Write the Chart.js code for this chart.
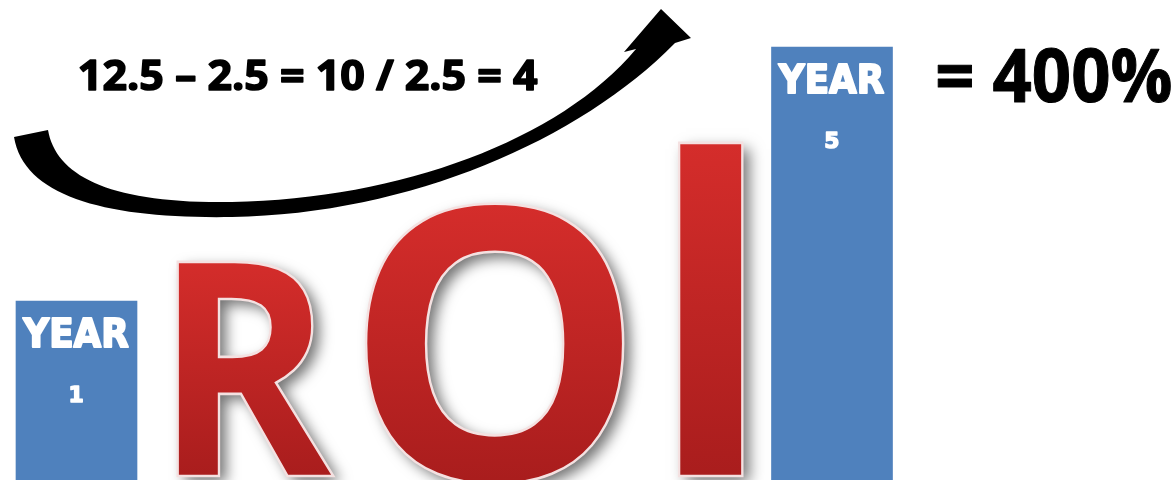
<!DOCTYPE html>
<html lang="en">
<head>
  <meta charset="UTF-8">
  <title>ROI</title>
  <style>
    body { margin: 0; padding: 0; background: #fff; }
    .chart-container { width: 1176px; height: 480px; position: relative; }
  </style>
</head>
<body>
  <div class="chart-container">
    <canvas id="roiChart"></canvas>
  </div>

  <script src="https://cdn.jsdelivr.net/npm/chart.js"></script>
  <script>
    // data
    const years = ['YEAR 1', 'YEAR 2', 'YEAR 3', 'YEAR 4', 'YEAR 5'];
    const yearValues = [2.5, null, null, null, 12.5];
    const yearNumbers = ['1', '', '', '', '5'];
    const axisFloor = -4.55;
    const equationText = '12.5 \u2013 2.5 = 10 / 2.5 = 4';
    const resultText = '= 400%';
    const roiLetters = ['R', 'O', 'I'];

    // draw text stretched so its ink box fits the given box
    function fitText(ctx, text, family, x0, x1, top, base, refChar, cx, heavy) {
      ctx.save();
      ctx.font = '700 100px ' + family;
      const m = ctx.measureText(text);
      const r = ctx.measureText(refChar || text);
      const w = m.actualBoundingBoxLeft + m.actualBoundingBoxRight;
      const sy = (base - top) / r.actualBoundingBoxAscent;
      let sx = sy;
      if (x0 !== null) sx = (x1 - x0) / w;
      else x0 = cx - w * sx / 2;
      ctx.translate(x0, base);
      ctx.scale(sx, sy);
      ctx.textAlign = 'left';
      ctx.textBaseline = 'alphabetic';
      ctx.fillText(text, m.actualBoundingBoxLeft, 0);
      if (heavy) {
        ctx.strokeStyle = ctx.fillStyle;
        ctx.lineJoin = 'round';
        ctx.lineWidth = heavy / ((sx + sy) / 2);
        ctx.strokeText(text, m.actualBoundingBoxLeft, 0);
      }
      ctx.restore();
    }

    function drawLetter(ctx, ch, x0, x1, top, base) {
      ctx.save();
      ctx.font = '700 100px "Open Sans"';
      const m = ctx.measureText(ch);
      const w = m.actualBoundingBoxLeft + m.actualBoundingBoxRight;
      const sy = (base - top) / m.actualBoundingBoxAscent;
      const sx = (x1 - x0) / w;
      ctx.translate(x0, base);
      ctx.scale(sx, sy);
      const g = ctx.createLinearGradient(0, -m.actualBoundingBoxAscent, 0, 0);
      g.addColorStop(0, '#d52d2b');
      g.addColorStop(1, '#a91d1d');
      ctx.shadowColor = 'rgba(0,0,0,0.55)';
      ctx.shadowBlur = 14;
      ctx.shadowOffsetX = 7;
      ctx.shadowOffsetY = 6;
      ctx.fillStyle = g;
      ctx.fillText(ch, m.actualBoundingBoxLeft, 0);
      ctx.shadowColor = 'transparent';
      ctx.lineWidth = 2.5 / ((sx + sy) / 2);
      ctx.strokeStyle = '#f4e1e1';
      ctx.strokeText(ch, m.actualBoundingBoxLeft, 0);
      ctx.restore();
    }

    const roiArt = {
      id: 'roiArt',
      beforeDatasetsDraw(chart) {
        const ctx = chart.ctx;
        // big staircase letters
        drawLetter(ctx, roiLetters[0], 175, 336, 257, 476);
        drawLetter(ctx, roiLetters[1], 363, 624, 202, 480);
        drawLetter(ctx, roiLetters[2], 675, 746, 140, 476);

        // swoosh arrow
        ctx.save();
        ctx.fillStyle = '#000';
        ctx.beginPath();
        ctx.moveTo(14, 137);
        ctx.bezierCurveTo(24, 198, 110, 219, 232, 217);
        ctx.bezierCurveTo(410, 214, 580, 140, 675, 43);
        ctx.lineTo(691, 38);
        ctx.lineTo(661, 9);
        ctx.lineTo(624, 52);
        ctx.lineTo(636, 49);
        ctx.bezierCurveTo(560, 140, 400, 199, 232, 202);
        ctx.bezierCurveTo(110, 204, 56, 176, 48, 130);
        ctx.closePath();
        ctx.fill();
        ctx.restore();

        ctx.save();
        ctx.fillStyle = '#000';
        fitText(ctx, equationText, '"Open Sans"', 80, 537, 60, 90, '0', null, 1.6);
        fitText(ctx, resultText, '"Open Sans"', 938, 1171, 48, 102, '0', null, 1);
        ctx.restore();
      },
      afterDatasetsDraw(chart) {
        const ctx = chart.ctx;
        const meta = chart.getDatasetMeta(0);
        ctx.save();
        ctx.fillStyle = '#fff';
        meta.data.forEach((bar, i) => {
          if (yearValues[i] === null) return;
          const half = bar.width / 2;
          fitText(ctx, 'YEAR', '"DejaVu Sans"', bar.x - half + 7, bar.x + half - 9, bar.y + 17, bar.y + 46, 'E', null, 2);
          fitText(ctx, yearNumbers[i], '"DejaVu Sans"', null, null, bar.y + 85, bar.y + 101, yearNumbers[i], bar.x, 1.5);
        });
        ctx.restore();
      }
    };

    new Chart(document.getElementById('roiChart'), {
      type: 'bar',
      data: {
        labels: years,
        datasets: [{
          data: yearValues,
          backgroundColor: '#4f81bd',
          borderWidth: 0,
          barThickness: 121,
          base: axisFloor,
          clip: false
        }]
      },
      options: {
        responsive: true,
        maintainAspectRatio: false,
        animation: false,
        layout: { padding: { left: 76.5, right: 344, top: 47, bottom: 0 } },
        plugins: { legend: { display: false }, tooltip: { enabled: false } },
        scales: {
          x: { display: false, offset: false },
          y: { display: false, min: axisFloor, max: 12.5 }
        }
      },
      plugins: [roiArt]
    });
  </script>
</body>
</html>
